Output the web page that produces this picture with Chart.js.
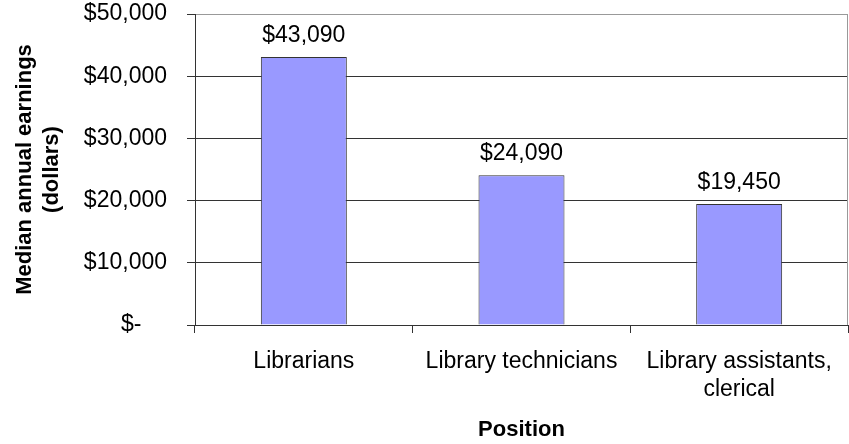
<!DOCTYPE html>
<html>
<head>
<meta charset="utf-8">
<script src="https://cdn.jsdelivr.net/npm/chart.js@4"></script>
<style>
  html, body { margin: 0; padding: 0; background: #fff; }
  #wrap { width: 849px; height: 444px; }
</style>
</head>
<body>
<div id="wrap"><canvas id="myChart" width="849" height="444"></canvas></div>
<script>
// datos del grafico
const categorias = ['Librarians', 'Library technicians', ['Library assistants,', 'clerical']];
const ganancias = [43090, 24090, 19450];
const etiquetasValor = ['$43,090', '$24,090', '$19,450'];
const etiquetasEjeY = ['$-    ', '$10,000', '$20,000', '$30,000', '$40,000', '$50,000'];

const fuente = "'Liberation Sans', Arial, sans-serif";

// etiquetas encima de las barras
const pluginEtiquetas = {
    id: 'etiquetas',
    afterDatasetsDraw(chart) {
        const ctx = chart.ctx;
        const meta = chart.getDatasetMeta(0);
        ctx.save();
        ctx.font = '23px ' + fuente;
        ctx.fillStyle = '#000';
        ctx.textAlign = 'center';
        ctx.textBaseline = 'alphabetic';
        meta.data.forEach(function(bar, i) {
            ctx.fillText(etiquetasValor[i], bar.x, bar.y - 15);
        });
        ctx.restore();
    }
};

// borde gris a la derecha del area
const pluginBorde = {
    id: 'borde',
    afterDraw(chart) {
        const a = chart.chartArea;
        const ctx = chart.ctx;
        ctx.save();
        ctx.strokeStyle = '#999';
        ctx.lineWidth = 1;
        ctx.beginPath();
        ctx.moveTo(a.right - 0.5, a.top);
        ctx.lineTo(a.right - 0.5, a.bottom);
        ctx.stroke();
        ctx.restore();
    }
};

const ctx = document.getElementById('myChart').getContext('2d');
new Chart(ctx, {
    type: 'bar',
    data: {
        labels: categorias,
        datasets: [{
            data: ganancias,
            backgroundColor: '#9999FF',
            borderColor: '#333',
            borderWidth: 1,
            barPercentage: 0.395,
            categoryPercentage: 1
        }]
    },
    options: {
        responsive: false,
        animation: false,
        layout: { padding: { top: 14, right: 1, left: 0, bottom: 0 } },
        plugins: {
            legend: { display: false },
            tooltip: { enabled: false }
        },
        scales: {
            x: {
                afterFit: function(scale) { scale.height = 119; },
                grid: {
                    drawOnChartArea: false,
                    offset: true,
                    tickLength: 8,
                    color: '#333'
                },
                border: { color: '#333' },
                ticks: {
                    color: '#000',
                    padding: 15,
                    maxRotation: 0,
                    autoSkip: false,
                    font: { family: fuente, size: 23 }
                },
                title: {
                    display: true,
                    text: 'Position',
                    color: '#000',
                    font: { family: fuente, size: 22, weight: 'bold' },
                    padding: { top: 0, bottom: 1 }
                }
            },
            y: {
                min: 0,
                max: 50000,
                afterFit: function(scale) {
                    scale.width = 195;
                    scale.paddingTop = 0;
                    scale.paddingBottom = 0;
                },
                ticks: {
                    stepSize: 10000,
                    color: '#000',
                    padding: 20,
                    font: { family: fuente, size: 23 },
                    callback: function(v, i) { return etiquetasEjeY[i]; }
                },
                grid: {
                    tickLength: 8,
                    color: function(c) { return c.tick && c.tick.value === 50000 ? '#999' : '#333'; },
                    tickColor: '#333'
                },
                border: { color: '#333' },
                title: {
                    display: true,
                    text: ['Median annual earnings', '(dollars)'],
                    color: '#000',
                    font: { family: fuente, size: 22, weight: 'bold' },
                    padding: { top: 12, bottom: 0 }
                }
            }
        }
    },
    plugins: [pluginEtiquetas, pluginBorde]
});
</script>
</body>
</html>
